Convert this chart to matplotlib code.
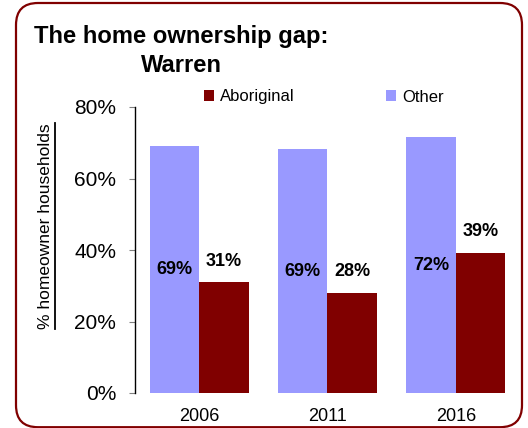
import matplotlib
matplotlib.use("Agg")
import matplotlib.pyplot as plt
import numpy as np
from matplotlib.patches import FancyBboxPatch
from matplotlib.transforms import IdentityTransform
from matplotlib.lines import Line2D

plt.rcParams['font.family'] = ['Liberation Sans', 'DejaVu Sans']

years = ["2006", "2011", "2016"]
other = [69.1, 68.2, 71.6]
aboriginal = [31.0, 28.0, 39.2]
other_labels = ["69%", "69%", "72%"]
aboriginal_labels = ["31%", "28%", "39%"]
yticks = [0, 20, 40, 60, 80]
ytick_labels = ["0%", "20%", "40%", "60%", "80%"]

C_OTHER = "#9999FF"
C_ABOR = "#800000"

W, H = 528, 428
fig = plt.figure(figsize=(W / 100, H / 100), dpi=100)
ax = fig.add_axes([135 / W, 35 / H, (520 - 135) / W, (393 - 107) / H])

x = np.arange(len(years))
bw = 0.385
b_other = ax.bar(x - bw / 2, other, width=bw, color=C_OTHER, label="Other", zorder=2)
b_abor = ax.bar(x + bw / 2, aboriginal, width=bw, color=C_ABOR, label="Aboriginal", zorder=2)

for xi, v, lab in zip(x, other, other_labels):
    ax.text(xi - bw / 2, v / 2, lab, ha="center", va="center", fontsize=13, fontweight="bold")
for xi, v, lab in zip(x, aboriginal, aboriginal_labels):
    ax.annotate(lab, (xi + bw / 2, v), xytext=(0, 9), textcoords="offset points",
                ha="center", va="bottom", fontsize=13, fontweight="bold")

ax.set_xlim(-0.5, len(years) - 0.5)
ax.set_ylim(0, 80)
ax.set_yticks(yticks)
ax.set_yticklabels(ytick_labels, fontsize=15)
ax.set_xticks(x)
ax.set_xticklabels(years, fontsize=13)
ax.tick_params(axis="x", length=0, pad=11)
ax.tick_params(axis="y", length=4.5, width=0.8, color="#808080", pad=9)
for s in ["top", "right", "bottom"]:
    ax.spines[s].set_visible(False)
ax.spines["left"].set_linewidth(1.0)

# legend
handles = [b_abor, b_other]
ax.legend(handles, ["Aboriginal", "Other"], ncol=2, frameon=False, fontsize=12,
          loc="center left", bbox_to_anchor=((204 - 135) / (520 - 135), (393 - 97) / (393 - 107)),
          handlelength=0.6, handleheight=0.6, handletextpad=0.35, columnspacing=5.5,
          borderpad=0, borderaxespad=0)

# title
fig.text(181 / W, 1 - 43 / H, "The home ownership gap:", ha="center", va="baseline",
         fontsize=17.1, fontweight="bold")
fig.text(181 / W, 1 - 72 / H, "Warren", ha="center", va="baseline",
         fontsize=17.1, fontweight="bold")

# y label (underlined)
yl = fig.text(46 / W, 1 - 226 / H, "% homeowner households", rotation=90,
              ha="center", va="center", fontsize=12.5)
fig.canvas.draw()
bb = yl.get_window_extent()
fig.add_artist(Line2D([bb.x1 + 1.5, bb.x1 + 1.5], [bb.y0, bb.y1], color="black", lw=1.3,
                      transform=IdentityTransform()))

# rounded frame
frame = FancyBboxPatch((16, 0.8), 506, 424.2, boxstyle="round,pad=0,rounding_size=22",
                       transform=IdentityTransform(), fill=False, edgecolor=C_ABOR, lw=1.6)
fig.add_artist(frame)

fig.savefig("out.png", dpi=100)
